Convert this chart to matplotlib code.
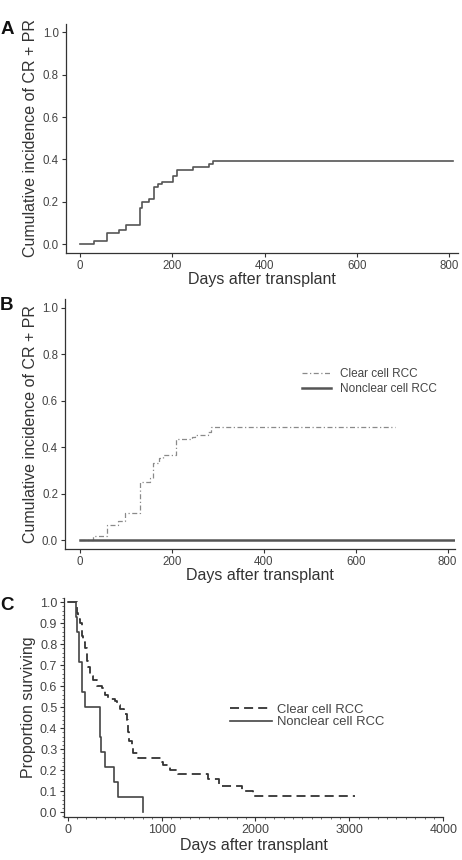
import matplotlib
matplotlib.use('Agg')
import matplotlib.pyplot as plt
from matplotlib.ticker import MultipleLocator

plt.rcParams['font.family'] = ['Liberation Sans', 'DejaVu Sans']

# panel A - all patients, cumulative incidence of CR + PR
dias_a = [0, 30, 59, 85, 100, 130, 134, 150, 160, 170, 178, 201, 210, 246, 280, 288, 809]
cif_a = [0, 0.014, 0.053, 0.068, 0.093, 0.17, 0.20, 0.214, 0.27, 0.283, 0.296, 0.322,
         0.35, 0.366, 0.379, 0.392, 0.392]

# panel B - by histology
dias_b_clear = [0, 29, 58, 83, 99, 130, 152, 159, 172, 180, 208, 243, 250, 279, 286, 685]
cif_b_clear = [0, 0.016, 0.063, 0.08, 0.116, 0.249, 0.266, 0.33, 0.351, 0.366, 0.435,
               0.443, 0.452, 0.466, 0.488, 0.488]
dias_b_nonclear = [0, 815]
cif_b_nonclear = [0, 0]

# panel C - survival
dias_c_clear = [0, 96, 114, 131, 149, 167, 185, 202, 213, 238, 273, 309, 362, 397, 433,
                504, 522, 557, 600, 628, 639, 656, 681, 699, 745, 1001, 1018, 1089, 1178,
                1497, 1615, 1853, 1977, 3065]
surv_c_clear = [1.0, 0.95, 0.92, 0.90, 0.84, 0.81, 0.78, 0.72, 0.69, 0.65, 0.63, 0.60, 0.59,
                0.56, 0.54, 0.53, 0.51, 0.49, 0.47, 0.44, 0.38, 0.34, 0.31, 0.28, 0.26, 0.24,
                0.225, 0.20, 0.18, 0.16, 0.127, 0.103, 0.078, 0.078]
dias_c_nonclear = [0, 85, 100, 121, 156, 184, 344, 360, 400, 493, 539, 805]
surv_c_nonclear = [1.0, 0.929, 0.857, 0.714, 0.571, 0.5, 0.357, 0.286, 0.214, 0.143, 0.071, 0.0]

rotulo_x = 'Days after transplant'
rotulo_y_cif = 'Cumulative incidence of CR + PR'
rotulo_y_surv = 'Proportion surviving'
legenda = ['Clear cell RCC', 'Nonclear cell RCC']

W, H = 462, 860
fig = plt.figure(figsize=(W / 100, H / 100), dpi=100)


def eixo(esq, topo, dir, base):
    # pixel box -> figure fraction
    return fig.add_axes([esq / W, 1 - base / H, (dir - esq) / W, (base - topo) / H])


def estilo(ax, cor_tick='#444444', tam=8.3):
    for s in ['top', 'right']:
        ax.spines[s].set_visible(False)
    for s in ['left', 'bottom']:
        ax.spines[s].set_color('#333333')
        ax.spines[s].set_linewidth(0.9)
    ax.tick_params(direction='out', length=3, width=0.8, color='#333333',
                   labelcolor=cor_tick, labelsize=tam, pad=2)


# ---- A
ax = eixo(65.7, 24, 458, 253)
ax.step(dias_a, cif_a, where='post', color='#555555', lw=1.2)
ax.set_xlim(-31, 819.5)
ax.set_ylim(-0.041, 1.039)
ax.set_xticks([0, 200, 400, 600, 800])
ax.set_yticks([0, 0.2, 0.4, 0.6, 0.8, 1.0])
ax.set_yticklabels(['0.0', '0.2', '0.4', '0.6', '0.8', '1.0'])
estilo(ax)
ax.set_xlabel(rotulo_x, fontsize=11.5, color='#333333', labelpad=0)
ax.set_ylabel(rotulo_y_cif, fontsize=11.5, color='#333333', labelpad=3)

# ---- B
ax = eixo(65, 299.3, 455, 549.3)
ax.step(dias_b_clear, cif_b_clear, where='post', color='#8a8a8a', lw=0.9,
        linestyle=(0, (4, 2, 1, 2)), label=legenda[0])
ax.step(dias_b_nonclear, cif_b_nonclear, where='post', color='#555555', lw=1.8,
        label=legenda[1])
ax.set_xlim(-32.6, 816)
ax.set_ylim(-0.04, 1.036)
ax.set_xticks([0, 200, 400, 600, 800])
ax.set_yticks([0, 0.2, 0.4, 0.6, 0.8, 1.0])
ax.set_yticklabels(['0.0', '0.2', '0.4', '0.6', '0.8', '1.0'])
estilo(ax)
ax.set_xlabel(rotulo_x, fontsize=11.5, color='#333333', labelpad=0)
ax.set_ylabel(rotulo_y_cif, fontsize=11.5, color='#333333', labelpad=3)
leg = ax.legend(loc='upper left', bbox_to_anchor=(0.607, 0.725), frameon=False,
                fontsize=8.5, handlelength=2.5, handletextpad=0.75, borderpad=0,
                borderaxespad=0, labelspacing=0.27)
for t in leg.get_texts():
    t.set_color('#444444')

# ---- C
ax = eixo(64.3, 598, 443.3, 817.3)
ax.step(dias_c_clear, surv_c_clear, where='post', color='#333333', lw=1.3,
        linestyle=(0, (5, 2.8)), label=legenda[0])
ax.step(dias_c_nonclear, surv_c_nonclear, where='post', color='#444444', lw=1.2,
        label=legenda[1])
ax.set_xlim(-36, 4000)
ax.set_ylim(-0.024, 1.02)
ax.xaxis.set_major_locator(MultipleLocator(1000))
ax.xaxis.set_minor_locator(MultipleLocator(100))
ax.yaxis.set_major_locator(MultipleLocator(0.1))
ax.yaxis.set_minor_locator(MultipleLocator(0.02))
ax.set_yticks([i / 10 for i in range(11)])
ax.set_yticklabels(['%.1f' % (i / 10) for i in range(11)])
estilo(ax, tam=9)
ax.tick_params(which='minor', direction='out', length=1.5, width=0.6, color='#555555')
ax.set_xlabel(rotulo_x, fontsize=11.5, color='#333333', labelpad=1)
ax.set_ylabel(rotulo_y_surv, fontsize=11.5, color='#333333', labelpad=3)
leg = ax.legend(loc='upper left', bbox_to_anchor=(0.437, 0.519), frameon=False,
                fontsize=9.4, handlelength=3.2, handletextpad=0.43, borderpad=0,
                borderaxespad=0, labelspacing=0.05)
for t in leg.get_texts():
    t.set_color('#444444')

# panel letters
for letra, (px, py) in zip(['A', 'B', 'C'], [(7, 29), (6.5, 306), (7, 605)]):
    fig.text(px / W, 1 - py / H, letra, fontsize=13.5, fontweight='bold',
             ha='center', va='center', color='#111111')

fig.savefig('out.png', dpi=100)
